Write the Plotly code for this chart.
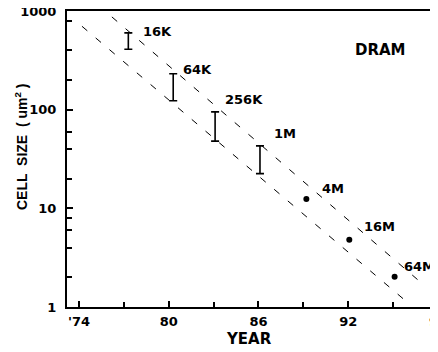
import math
import plotly.graph_objects as go

# ---- data ----
bar_labels = ["16K", "64K", "256K", "1M"]
bar_years = [77.3, 80.3, 83.1, 86.1]
bar_low = [410, 123, 48, 22.5]
bar_high = [600, 231, 95, 43]

dot_labels = ["4M", "16M", "64M"]
dot_years = [89.2, 92.07, 95.1]
dot_values = [12.4, 4.8, 2.02]

upper_trend_years = [76.2, 96.9]
upper_trend_values = [871, 1.75]
lower_trend_years = [74.2, 96.0]
lower_trend_values = [700, 1.1]

x_tick_vals = [74, 80, 86, 92, 98]
x_tick_text = ["'74", "80", "86", "92", "98"]
x_minor_vals = [77, 83, 89, 95]
y_tick_vals = [1, 10, 100, 1000]
y_tick_text = ["1", "10", "100", "1000"]
y_minor_vals = [2, 4, 6, 8, 20, 40, 60, 200, 400, 800]

BOLD = "DejaVu Sans"
fig = go.Figure()

for xs, ys in [(upper_trend_years, upper_trend_values), (lower_trend_years, lower_trend_values)]:
    fig.add_trace(go.Scatter(x=xs, y=ys, mode="lines",
                             line=dict(color="black", width=1, dash="7px,11px"),
                             showlegend=False, hoverinfo="skip"))

fig.add_trace(go.Scatter(
    x=bar_years, y=bar_low, mode="markers",
    marker=dict(size=1, color="rgba(0,0,0,0)"),
    error_y=dict(type="data", symmetric=False,
                 array=[h - l for h, l in zip(bar_high, bar_low)],
                 arrayminus=[0] * len(bar_low),
                 color="black", thickness=1.6, width=4),
    showlegend=False))

fig.add_trace(go.Scatter(x=dot_years, y=dot_values, mode="markers",
                         marker=dict(size=6, color="black"), showlegend=False))

# label offsets (pixels) relative to top of each mark
bar_shifts = [(13, 1), (8, 4), (8, 12), (12, 12)]
dot_shifts = [(14, 11), (13, 13), (7, 10)]
ann = []
for lab, x, y, (dx, dy) in zip(bar_labels, bar_years, bar_high, bar_shifts):
    ann.append(dict(x=x, y=math.log10(y), text=lab, xanchor="left",
                    yanchor="middle", xshift=dx, yshift=dy, showarrow=False,
                    font=dict(family=BOLD, size=13, color="black", weight="bold")))
for lab, x, y, (dx, dy) in zip(dot_labels, dot_years, dot_values, dot_shifts):
    ann.append(dict(x=x, y=math.log10(y), text=lab, xanchor="left",
                    yanchor="middle", xshift=dx, yshift=dy, showarrow=False,
                    font=dict(family=BOLD, size=13, color="black", weight="bold")))

# paper annotations given in window pixels
ann.append(dict(x=380, y=50, xref="paper", yref="paper", text="DRAM", showarrow=False,
                xanchor="center", yanchor="middle",
                font=dict(family=BOLD, size=15, color="black", weight="bold")))
ann.append(dict(x=249, y=339, xref="paper", yref="paper", text="YEAR", showarrow=False,
                xanchor="center", yanchor="middle",
                font=dict(family=BOLD, size=15, color="black", weight="bold")))
ann.append(dict(x=21, y=147, xref="paper", yref="paper", text="CELL  SIZE  ( um<sup>2</sup> )",
                showarrow=False, textangle=-90, xanchor="center", yanchor="middle",
                font=dict(family="Liberation Sans", size=14, color="black", weight="bold")))

# page body has an 8px margin; figure origin sits at (8, 8) in the window
OFF = 8
W, H = 438 - OFF, 352 - OFF
L, R, T, B = 67 - OFF, 0, 11 - OFF, H - (307 - OFF)
pw, ph = W - L - R, H - T - B
for a in ann:
    if a.get("xref") == "paper":
        a["x"] = (a["x"] - OFF - L) / pw
        a["y"] = (H - B - (a["y"] - OFF)) / ph

fig.update_layout(
    width=W, height=H, margin=dict(l=L, r=R, t=T, b=B, autoexpand=False),
    paper_bgcolor="white", plot_bgcolor="white",
    annotations=ann, showlegend=False,
    xaxis=dict(range=[73.2, 98.0], tickvals=x_tick_vals, ticktext=x_tick_text,
               ticks="inside", ticklen=6, tickwidth=1.5, tickcolor="black",
               showline=True, linewidth=2, linecolor="black", mirror=True,
               showgrid=False, zeroline=False, ticklabelstandoff=1, automargin=False,
               ticklabeloverflow="allow",
               minor=dict(tickvals=x_minor_vals, ticks="inside", ticklen=5, tickwidth=1.5, tickcolor="black"),
               tickfont=dict(family=BOLD, size=13, color="black", weight="bold")),
    yaxis=dict(type="log", range=[0, 3], tickvals=y_tick_vals, ticktext=y_tick_text,
               ticks="inside", ticklen=6, tickwidth=1.5, tickcolor="black",
               showline=True, linewidth=2, linecolor="black",
               showgrid=False, zeroline=False, ticklabelstandoff=6, automargin=False,
               ticklabeloverflow="allow",
               minor=dict(tickvals=y_minor_vals, ticks="inside", ticklen=5, tickwidth=1.5, tickcolor="black"),
               tickfont=dict(family=BOLD, size=13, color="black", weight="bold")),
)

fig.write_html("out.html")
